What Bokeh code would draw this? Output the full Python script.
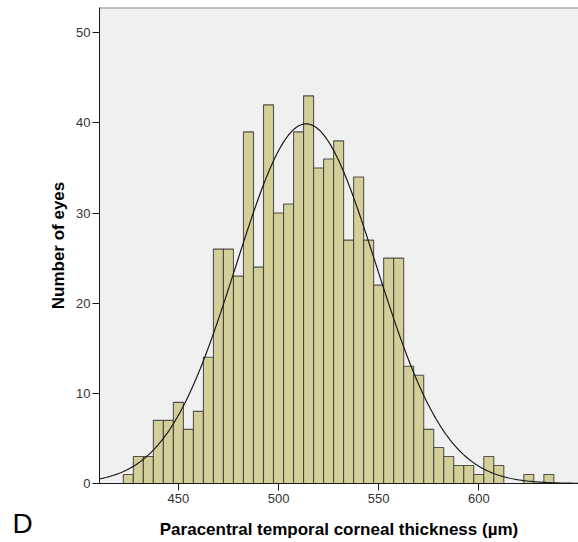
import numpy as np
from bokeh.plotting import figure
from bokeh.models import Span, Label, FixedTicker
from bokeh.embed import file_html
from bokeh.resources import INLINE

# Bin centres (µm) and counts
bin_centers = [425, 430, 435, 440, 445, 450, 455, 460, 465, 470, 475, 480,
               485, 490, 495, 500, 505, 510, 515, 520, 525, 530, 535, 540,
               545, 550, 555, 560, 565, 570, 575, 580, 585, 590, 595, 600,
               605, 610, 615, 620, 625, 630, 635]
counts = [1, 3, 3, 7, 7, 9, 6, 8, 14, 26, 26, 23,
          39, 24, 42, 30, 31, 39, 43, 35, 36, 38, 27, 34,
          27, 22, 25, 25, 13, 12, 6, 4, 3, 2, 2, 1,
          3, 2, 0, 0, 1, 0, 1]
bin_width = 5
x_ticks = [450, 500, 550, 600]
y_ticks = [0, 10, 20, 30, 40, 50]

# normal curve parameters
curve_mean = 513.8
curve_sd = 35.0

X_MIN, X_MAX = 410.6, 649.8
Y_MAX = 52.8

p = figure(width=578, height=542, output_backend="svg", toolbar_location=None,
           x_range=(X_MIN, X_MAX), y_range=(0, Y_MAX),
           min_border_left=99, min_border_right=0, min_border_top=7,
           min_border_bottom=59)
p.background_fill_color = "#F0F0F0"
p.border_fill_color = "white"
p.outline_line_color = None
p.grid.visible = False

left = [c - bin_width / 2 for c in bin_centers]
right = [c + bin_width / 2 for c in bin_centers]
p.quad(left=left, right=right, bottom=0, top=counts,
       fill_color="#D4CF99", line_color="#3a3a3a", line_width=1.1, line_alpha=0.85)

n_total = sum(counts)
xs = np.linspace(X_MIN, X_MAX, 400)
ys = n_total * bin_width / (curve_sd * np.sqrt(2 * np.pi)) * np.exp(-0.5 * ((xs - curve_mean) / curve_sd) ** 2)
p.line(xs, ys, line_color="#1a1a1a", line_width=1.2)

p.add_layout(Span(location=Y_MAX, dimension="width", line_color="#8a8a8a", line_width=2))

for ax in (p.xaxis[0], p.yaxis[0]):
    ax.axis_line_color = "#1a1a1a"
    ax.major_tick_line_color = "#1a1a1a"
    ax.minor_tick_line_color = None
    ax.major_tick_in = 0
    ax.major_tick_out = 7
    ax.major_label_text_font = "Liberation Sans"
    ax.major_label_text_font_size = "13px"
    ax.major_label_text_color = "#333333"
    ax.axis_label_text_font = "Liberation Sans"
    ax.axis_label_text_font_style = "bold"
    ax.axis_label_text_font_size = "17px"
    ax.axis_label_text_color = "black"

p.xaxis.ticker = FixedTicker(ticks=x_ticks)
p.yaxis.ticker = FixedTicker(ticks=y_ticks)
p.xaxis.axis_label = "Paracentral temporal corneal thickness (µm)"
p.yaxis.axis_label = "Number of eyes"
p.xaxis.major_label_standoff = 3
p.yaxis.major_label_standoff = 2
p.xaxis.axis_label_standoff = 14
p.yaxis.axis_label_standoff = 5

p.add_layout(Label(x=-14, y=-40, x_units="screen", y_units="screen", text="D",
                   text_font="Liberation Sans", text_font_size="28px",
                   text_color="black", text_baseline="alphabetic"), "left")

open("out.html", "w").write(file_html(p, INLINE))
